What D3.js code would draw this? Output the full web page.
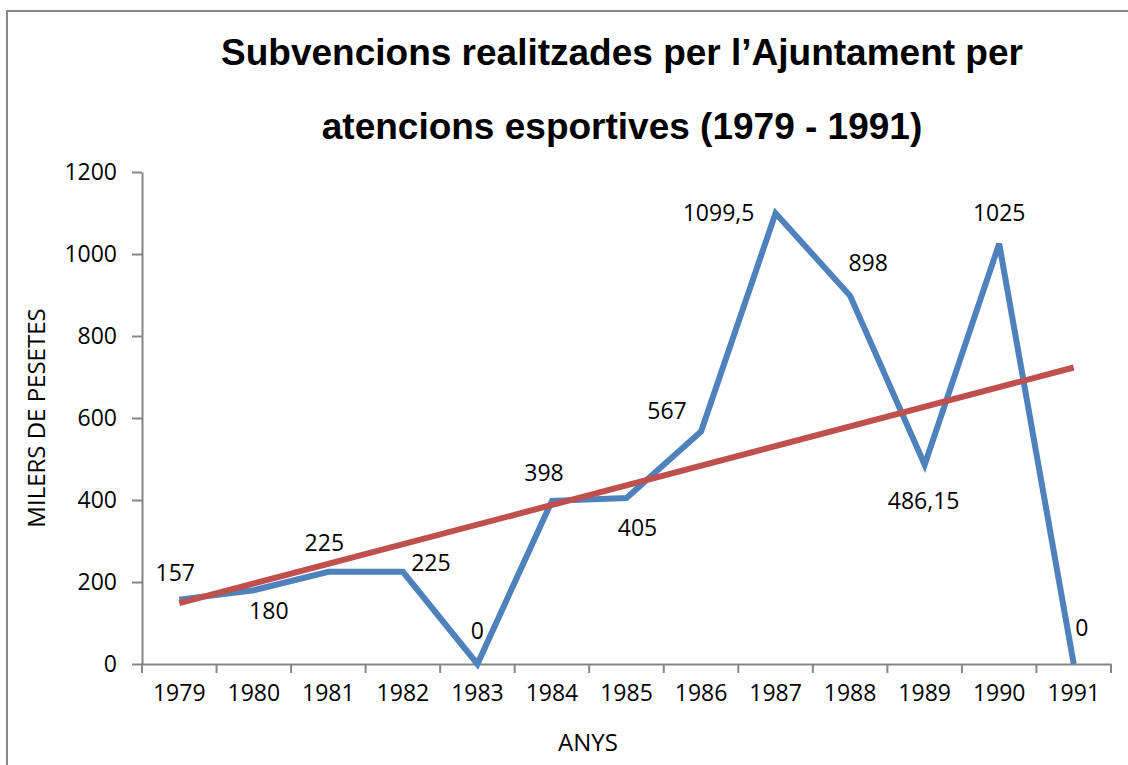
<!DOCTYPE html>
<html>
<head>
<meta charset="utf-8">
<script src="https://cdn.jsdelivr.net/npm/d3@7"></script>
<style>
  body { margin: 0; background: #fff; }
  svg { display: block; }
</style>
</head>
<body>
<div id="chart"></div>
<script>
const years = ["1979", "1980", "1981", "1982", "1983", "1984", "1985", "1986", "1987", "1988", "1989", "1990", "1991"];
const values = [157, 180, 225, 225, 0, 398, 405, 567, 1099.5, 898, 486.15, 1025, 0];
const valueLabels = ["157", "180", "225", "225", "0", "398", "405", "567", "1099,5", "898", "486,15", "1025", "0"];
const yTicks = [0, 200, 400, 600, 800, 1000, 1200];

// where each data label sits relative to its point
const labelOffsets = [[-4, -28], [15, 20], [-4, -30], [28, -10], [0, -34], [-8, -29], [11, 29],
    [-34, -22], [-57, -1], [18, -34], [-1, 35], [0, -32], [8, -37]];

const width = 1128, height = 765;
const margins = { top: 172, right: 17, bottom: 101, left: 142 };
const chartWidth = width - margins.left - margins.right;
const chartHeight = height - margins.top - margins.bottom;
const labelFont = "23px 'Open Sans', sans-serif";
const axisTitleFont = "24px 'Open Sans', sans-serif";

const svg = d3.select("#chart").append("svg")
    .attr("width", width)
    .attr("height", height);

// chart border
svg.append("rect")
    .attr("x", 7).attr("y", 11)
    .attr("width", width).attr("height", height)
    .attr("fill", "none")
    .attr("stroke", "#888")
    .attr("stroke-width", 2);

svg.append("text")
    .attr("x", 622).attr("y", 65)
    .attr("text-anchor", "middle")
    .style("font", "bold 37px 'Liberation Sans', Arial, sans-serif")
    .text("Subvencions realitzades per l\u2019Ajuntament per");
svg.append("text")
    .attr("x", 622).attr("y", 139)
    .attr("text-anchor", "middle")
    .style("font", "bold 37px 'Liberation Sans', Arial, sans-serif")
    .text("atencions esportives (1979 - 1991)");

const g = svg.append("g")
    .attr("transform", `translate(${margins.left},${margins.top})`);

const xScale = d3.scaleBand()
    .domain(years)
    .range([0, chartWidth]);
const yScale = d3.scaleLinear()
    .domain([0, 1200])
    .range([chartHeight, 0]);

const cx = d => xScale(d) + xScale.bandwidth() / 2;

// y axis
const yAxis = g.append("g")
    .call(d3.axisLeft(yScale).tickValues(yTicks).tickFormat(d3.format("d"))
        .tickSize(10).tickPadding(15).tickSizeOuter(0));
yAxis.select(".domain").attr("stroke", "#868686").attr("stroke-width", 2);
yAxis.selectAll(".tick line").attr("stroke", "#868686").attr("stroke-width", 2);
yAxis.selectAll(".tick text")
    .style("font", labelFont)
    .attr("fill", "#000");

// x axis, ticks sit between categories
const xAxis = g.append("g")
    .attr("transform", `translate(0,${chartHeight})`)
    .call(d3.axisBottom(xScale).tickSize(0).tickPadding(21).tickSizeOuter(0));
xAxis.select(".domain").attr("stroke", "#868686").attr("stroke-width", 2);
xAxis.selectAll(".tick text")
    .style("font", labelFont)
    .attr("fill", "#000");
xAxis.selectAll(".between")
    .data(d3.range(years.length + 1))
    .enter()
    .append("line")
    .attr("x1", i => i * xScale.step())
    .attr("x2", i => i * xScale.step())
    .attr("y1", 0).attr("y2", 9)
    .attr("stroke", "#868686")
    .attr("stroke-width", 2);

// data line
const points = years.map((y, i) => ({ year: y, value: values[i], label: valueLabels[i], off: labelOffsets[i] }));
const line = d3.line()
    .x(d => cx(d.year))
    .y(d => yScale(d.value));

g.append("path")
    .datum(points)
    .attr("d", line)
    .attr("fill", "none")
    .attr("stroke", "#4F81BD")
    .attr("stroke-width", 6)
    .attr("stroke-linejoin", "miter");

// linear trend line (least squares over the series)
const xIdx = d3.range(values.length);
const mx = d3.mean(xIdx), my = d3.mean(values);
const slope = d3.sum(xIdx, i => (i - mx) * (values[i] - my)) / d3.sum(xIdx, i => (i - mx) ** 2);
const intercept = my - slope * mx;
const trend = [0, values.length - 1].map(i => ({ year: years[i], value: intercept + slope * i }));

g.append("path")
    .datum(trend)
    .attr("d", line)
    .attr("fill", "none")
    .attr("stroke", "#C0504D")
    .attr("stroke-width", 6);

// data labels
g.selectAll(".value-label")
    .data(points)
    .enter()
    .append("text")
    .attr("class", "value-label")
    .attr("x", d => cx(d.year) + d.off[0])
    .attr("y", d => yScale(d.value) + d.off[1])
    .attr("text-anchor", "middle")
    .attr("dominant-baseline", "central")
    .style("font", labelFont)
    .text(d => d.label);

// axis titles
svg.append("text")
    .attr("transform", "translate(35,418) rotate(-90)")
    .attr("text-anchor", "middle")
    .attr("dominant-baseline", "central")
    .style("font", axisTitleFont)
    .text("MILERS DE PESETES");
svg.append("text")
    .attr("x", 588).attr("y", 741)
    .attr("text-anchor", "middle")
    .attr("dominant-baseline", "central")
    .style("font", axisTitleFont)
    .text("ANYS");
</script>
</body>
</html>
